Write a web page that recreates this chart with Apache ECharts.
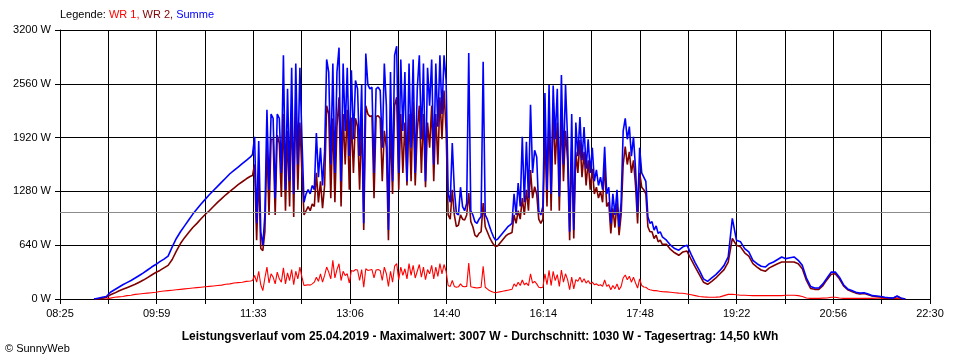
<!DOCTYPE html>
<html>
<head>
<meta charset="utf-8">
<script src="https://cdn.jsdelivr.net/npm/echarts@6/dist/echarts.min.js"></script>
<style>
html,body{margin:0;padding:0;background:#fff;}
#chart{width:960px;height:360px;}
</style>
</head>
<body>
<div id="chart"></div>
<script>
// ---------------- data ----------------
const axisStart = '08:25';
const axisEnd = '22:30';
const tickLabels = ['08:25','09:59','11:33','13:06','14:40','16:14','17:48','19:22','20:56','22:30'];
const yMax = 3200;
const yStep = 640;
const average = 1030;
const seriesNames = ['WR 1', 'WR 2', 'Summe'];
const titleText = 'Leistungsverlauf vom 25.04.2019 - Maximalwert: 3007 W - Durchschnitt: 1030 W - Tagesertrag: 14,50 kWh';
const copyrightText = '\u00A9 SunnyWeb';

// sample clock: [from, to, step in minutes]
const sampleClock = [['08:58','11:30',4], ['11:32','18:10',2], ['18:14','22:06',4]];

// WR 1 (W)
const wr1 = [
  0,0,0,0,10,20,25,30,40,45,55,60,65,70,75,80,90,95,100,105,110,115,120,125,130,135,140,145,150,155,160,165,175,180,190,195,200,210,215,
  220,280,200,330,170,100,250,380,190,300,
  260,180,320,240,200,370,180,310,220,350,
  170,330,240,380,260,160,165,170,165,180,
  200,260,210,300,200,280,380,320,240,460,
  250,350,420,220,330,280,300,190,340,330,
  350,345,220,350,140,360,340,345,350,250,
  345,350,340,220,380,300,150,330,200,390,
  420,230,380,280,360,240,420,280,400,250,
  330,410,260,380,230,350,300,400,240,380,
  270,420,300,410,330,160,150,220,150,140,
  145,180,150,145,150,428,145,140,135,130,
  135,140,390,140,120,100,90,80,75,80,
  85,90,95,100,105,110,115,180,150,200,
  160,226,170,190,160,300,190,210,180,140,
  135,140,300,170,340,160,330,220,290,150,
  345,200,300,230,110,260,120,230,210,260,
  200,240,190,220,180,200,170,180,160,170,
  150,226,150,170,110,160,120,180,110,150,
  250,285,230,270,200,260,190,130,240,160,
  143,140,120,110,105,100,100,95,90,88,
  85,80,75,70,68,60,50,40,30,25,22,20,22,25,40,55,56,50,45,45,42,40,40,42,40,40,40,42,40,45,
  45,45,40,30,12,8,8,8,10,12,20,20,12,8,8,8,8,8,8,8,8,10,10,8,5,5,5,2,0
];

// WR 2 (W)
const wr2 = [
  0,0,10,20,50,70,95,115,135,155,175,200,225,255,285,315,340,370,400,470,570,660,730,790,850,900,955,1005,1050,1100,1150,1195,1240,1280,1320,1360,1395,1430,1460,
  1470,1600,700,1500,600,575,800,1850,1000,1900,
  1900,1000,1950,1850,1213,2200,1050,2000,1100,2300,
  975,2400,1300,2100,1500,1000,1050,1100,1050,1130,
  1100,1500,1150,1400,1080,1350,2300,2200,1200,2150,
  1150,2050,2400,1100,2200,1600,2250,1300,2160,1500,
  2150,2050,1300,2150,820,2300,2200,2170,2180,1200,
  2170,2180,2150,1400,2000,1800,700,2100,1250,2300,
  2400,1300,2200,1500,2100,1350,2200,1400,2350,1350,
  2000,2300,1500,2200,1330,2100,1800,2300,1400,2200,
  1600,2400,1900,2480,2000,1000,950,1300,1000,860,
  880,1000,950,940,1000,1260,920,860,760,740,
  780,800,1142,860,800,740,690,650,625,630,
  660,690,720,750,770,780,790,1000,900,1050,
  950,1200,1000,1300,1050,1535,1200,1336,1250,950,
  900,950,2000,1100,2200,1050,2250,1600,2100,1050,
  2200,1400,2000,1650,700,1800,720,1750,1500,1890,
  1450,1750,1350,1650,1300,1550,1250,1330,1200,1280,
  1150,1600,1100,1150,780,1080,850,1150,760,1000,
  1600,1812,1600,1750,1500,1650,1350,900,1500,1330,
  1300,1250,860,800,800,720,760,680,700,650,
  650,590,550,520,560,570,470,380,290,200,175,210,250,300,350,440,720,640,620,550,510,420,380,345,330,370,395,420,440,440,
  440,440,420,360,220,125,115,115,160,230,295,300,240,155,110,90,70,60,65,50,35,30,25,15,12,8,30,8,0
];

// Summe (W)
const summe = [
  0,10,20,30,80,110,140,170,195,220,250,280,310,345,380,410,445,475,510,620,720,800,870,940,1010,1070,1130,1185,1240,1290,1340,1390,1440,1490,1530,1570,1610,1650,1690,
  1720,1930,900,1880,800,640,1000,2250,1300,2200,
  2150,1200,2200,2150,1500,2900,1300,2500,1400,2750,
  1250,2800,1600,2750,1900,1150,1250,1300,1250,1350,
  1300,1975,1450,1800,1350,1750,2850,2700,1600,2800,
  1500,2700,2990,1400,2800,2000,2750,1700,2720,1900,
  2600,2500,1700,2550,900,2920,2550,2500,2520,1500,
  2500,2520,2480,1800,2800,2300,820,2700,1400,2900,
  3007,1500,2850,2000,2700,1400,2800,1800,2850,1500,
  2500,2900,1900,2800,1400,2750,2300,2850,1600,2800,
  2050,2900,2200,2900,2600,1250,1150,1855,1300,1020,
  1000,1330,1100,1050,1140,2926,1050,1000,920,900,
  950,980,2823,1000,950,870,800,740,700,710,
  740,770,800,830,860,880,900,1250,1000,1380,
  1100,1930,1150,1870,1200,2310,1500,1770,1690,1050,
  1000,1100,2450,1300,2545,1250,2540,1900,2500,1220,
  2665,1600,2550,1900,800,2200,820,2100,1700,2165,
  1650,2046,1550,1900,1500,1800,1400,1535,1350,1450,
  1300,1810,1250,1330,900,1250,1000,1300,860,1150,
  2000,2150,1900,2050,1700,1930,1550,1020,1800,1500,
  1450,1400,980,900,920,820,870,780,800,740,
  700,640,600,580,620,640,530,430,340,240,210,250,290,340,400,500,960,700,680,600,560,460,420,390,380,420,440,470,500,480,
  490,500,460,400,250,150,130,130,180,250,320,320,260,170,120,100,80,70,75,60,40,35,30,20,15,10,35,10,0
];

// ---------------- chart ----------------
const toMin = s => { const p = s.split(':').map(Number); return p[0] * 60 + p[1]; };
const t0 = toMin(axisStart);
const span = toMin(axisEnd) - t0;
const gridStep = span / 18;
const labelStep = span / 9;

const times = [];
sampleClock.forEach(([a, b, s]) => {
  for (let t = toMin(a); t <= toMin(b); t += s) times.push(t - t0);
});
const pairs = arr => times.map((x, i) => [x, arr[i]]);

const FONT = '"Liberation Sans", Arial, sans-serif';
const colors = ['#FF0000', '#800000', '#0000FF'];

const chart = echarts.init(document.getElementById('chart'), null, { renderer: 'canvas' });
chart.setOption({
  animation: false,
  backgroundColor: '#fff',
  grid: { left: 60, right: 30, top: 30, bottom: 61, containLabel: false },
  xAxis: {
    type: 'value', min: 0, max: span, interval: gridStep,
    axisLine: { show: true, lineStyle: { color: '#000', width: 1 } },
    axisTick: { show: true, length: 5, lineStyle: { color: '#000', width: 1 } },
    axisLabel: {
      color: '#000', fontSize: 11, fontFamily: FONT, margin: 9,
      showMinLabel: true, showMaxLabel: true,
      formatter: v => {
        const k = Math.round(v / labelStep);
        return Math.abs(v - k * labelStep) < 0.5 ? tickLabels[k] : '';
      }
    },
    splitLine: { show: true, lineStyle: { color: '#000', width: 1 } }
  },
  yAxis: {
    type: 'value', min: 0, max: yMax, interval: yStep,
    axisLine: { show: true, lineStyle: { color: '#000', width: 1 } },
    axisTick: { show: true, length: 5, lineStyle: { color: '#000', width: 1 } },
    axisLabel: { color: '#000', fontSize: 11, fontFamily: FONT, margin: 9, formatter: v => v + ' W' },
    splitLine: { show: true, lineStyle: { color: '#000', width: 1 } }
  },
  series: [
    {
      type: 'line', name: 'avg', data: [], z: 1, silent: true,
      markLine: {
        silent: true, symbol: 'none', label: { show: false },
        lineStyle: { color: '#8c8c8c', type: 'solid', width: 1.2 },
        data: [{ yAxis: average }]
      }
    },
    { type: 'line', name: seriesNames[0], data: pairs(wr1), showSymbol: false, symbol: 'none', z: 2,
      lineStyle: { color: colors[0], width: 1.1 }, itemStyle: { color: colors[0] } },
    { type: 'line', name: seriesNames[1], data: pairs(wr2), showSymbol: false, symbol: 'none', z: 3,
      lineStyle: { color: colors[1], width: 1.6 }, itemStyle: { color: colors[1] } },
    { type: 'line', name: seriesNames[2], data: pairs(summe), showSymbol: false, symbol: 'none', z: 4,
      lineStyle: { color: colors[2], width: 1.6 }, itemStyle: { color: colors[2] } }
  ],
  graphic: [
    {
      type: 'text', left: 60, top: 9,
      style: {
        text: '{k|Legende: }{a|' + seriesNames[0] + ', }{b|' + seriesNames[1] + ', }{c|' + seriesNames[2] + '}',
        rich: {
          k: { fill: '#000', fontSize: 11, fontFamily: FONT },
          a: { fill: colors[0], fontSize: 11, fontFamily: FONT },
          b: { fill: colors[1], fontSize: 11, fontFamily: FONT },
          c: { fill: colors[2], fontSize: 11, fontFamily: FONT }
        }
      }
    },
    {
      type: 'text', x: 480, y: 337,
      style: { text: titleText, fill: '#000', font: 'bold 12px ' + FONT, textAlign: 'center', textVerticalAlign: 'middle' }
    },
    {
      type: 'text', x: 5, y: 349,
      style: { text: copyrightText, fill: '#000', font: '11px ' + FONT, textAlign: 'left', textVerticalAlign: 'middle' }
    }
  ]
});
</script>
</body>
</html>
